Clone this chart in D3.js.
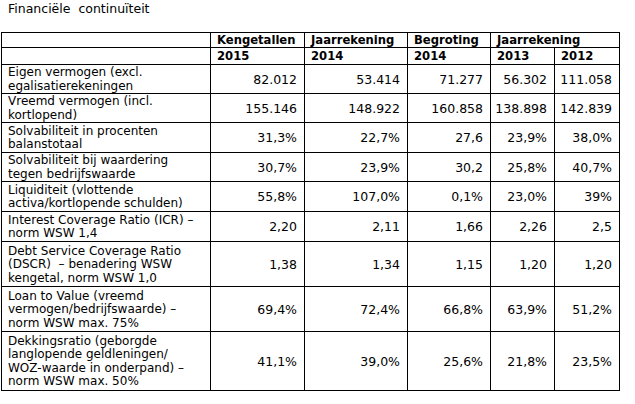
<!DOCTYPE html>
<html><head><meta charset="utf-8">
<script src="https://cdn.jsdelivr.net/npm/d3@7"></script>
<style>
html,body{margin:0;padding:0;background:#fff;}
svg text{font-family:"DejaVu Sans",Verdana,sans-serif;fill:#000;}
</style></head>
<body>
<svg id="chart" width="635" height="404"></svg>
<script>
const title = "Financiële  continuïteit";
const headerTop = ["", "Kengetallen", "Jaarrekening", "Begroting", "Jaarrekening"];
const headerYears = ["", "2015", "2014", "2014", "2013", "2012"];
const rowLabels = [
  ["Eigen vermogen (excl.", "egalisatierekeningen"],
  ["Vreemd vermogen (incl.", "kortlopend)"],
  ["Solvabiliteit in procenten", "balanstotaal"],
  ["Solvabiliteit bij waardering", "tegen bedrijfswaarde"],
  ["Liquiditeit (vlottende", "activa/kortlopende schulden)"],
  ["Interest Coverage Ratio (ICR) –", "norm WSW 1,4"],
  ["Debt Service Coverage Ratio", "(DSCR)  – benadering WSW", "kengetal, norm WSW 1,0"],
  ["Loan to Value (vreemd", "vermogen/bedrijfswaarde) –", "norm WSW max. 75%"],
  ["Dekkingsratio (geborgde", "langlopende geldleningen/", "WOZ-waarde in onderpand) –", "norm WSW max. 50%"]
];
const kengetallen2015 = ["82.012","155.146","31,3%","30,7%","55,8%","2,20","1,38","69,4%","41,1%"];
const jaarrekening2014 = ["53.414","148.922","22,7%","23,9%","107,0%","2,11","1,34","72,4%","39,0%"];
const begroting2014 = ["71.277","160.858","27,6","30,2","0,1%","1,66","1,15","66,8%","25,6%"];
const jaarrekening2013 = ["56.302","138.898","23,9%","25,8%","23,0%","2,26","1,20","63,9%","21,8%"];
const jaarrekening2012 = ["111.058","142.839","38,0%","40,7%","39%","2,5","1,20","51,2%","23,5%"];
const valueColumns = [kengetallen2015, jaarrekening2014, begroting2014, jaarrekening2013, jaarrekening2012];

// layout
const colEdges = [1, 210, 304, 407, 490, 554, 619];
const rowEdges = [32, 47, 64, 93, 122, 152, 181, 211, 241, 286, 331, 390];
const fs = 12, fsBold = 11.6, lh = 13.5;

const svg = d3.select("#chart");
const x = i => colEdges[i];
const y = i => rowEdges[i];

svg.append("text").attr("x", 8).attr("y", 13).attr("font-size", 12.5)
  .attr("xml:space", "preserve").style("white-space", "pre").text(title);

const g = svg.append("g");
const stroke = "#000";
function hline(x1, x2, yy){ g.append("line").attr("x1",x1).attr("x2",x2+1).attr("y1",yy+0.5).attr("y2",yy+0.5).attr("stroke",stroke).attr("stroke-width",1); }
function vline(xx, y1, y2){ g.append("line").attr("x1",xx+0.5).attr("x2",xx+0.5).attr("y1",y1).attr("y2",y2+1).attr("stroke",stroke).attr("stroke-width",1); }

rowEdges.forEach(r => hline(colEdges[0], colEdges[6], r));
[0,1,2,3,4,6].forEach(c => vline(colEdges[c], rowEdges[0], rowEdges[rowEdges.length-1]));
vline(colEdges[5], rowEdges[1], rowEdges[rowEdges.length-1]);

// header row 1
headerTop.forEach((t,i) => {
  if(!t) return;
  svg.append("text").attr("x", x(i) + 7).attr("y", y(0) + 12)
    .attr("font-size", fsBold).attr("font-weight", "bold").text(t);
});
// header row 2
headerYears.forEach((t,i) => {
  if(!t) return;
  svg.append("text").attr("x", x(i) + 7).attr("y", y(1) + 13)
    .attr("font-size", fsBold).attr("font-weight", "bold").text(t);
});

// body rows
rowLabels.forEach((lines, r) => {
  const top = y(r+2), bot = y(r+3);
  const mid = (top + bot) / 2;
  const n = lines.length;
  const t = svg.append("text").attr("font-size", fs).attr("xml:space","preserve").style("white-space","pre");
  lines.forEach((ln, k) => {
    t.append("tspan").attr("x", 8).attr("y", mid - (n-1)*lh/2 + k*lh + 4.5).text(ln);
  });
  valueColumns.forEach((col, c) => {
    svg.append("text").attr("x", x(c+2) - 7).attr("y", mid + 5)
      .attr("text-anchor", "end").attr("font-size", 12.5).text(col[r]);
  });
});
</script>
</body></html>
